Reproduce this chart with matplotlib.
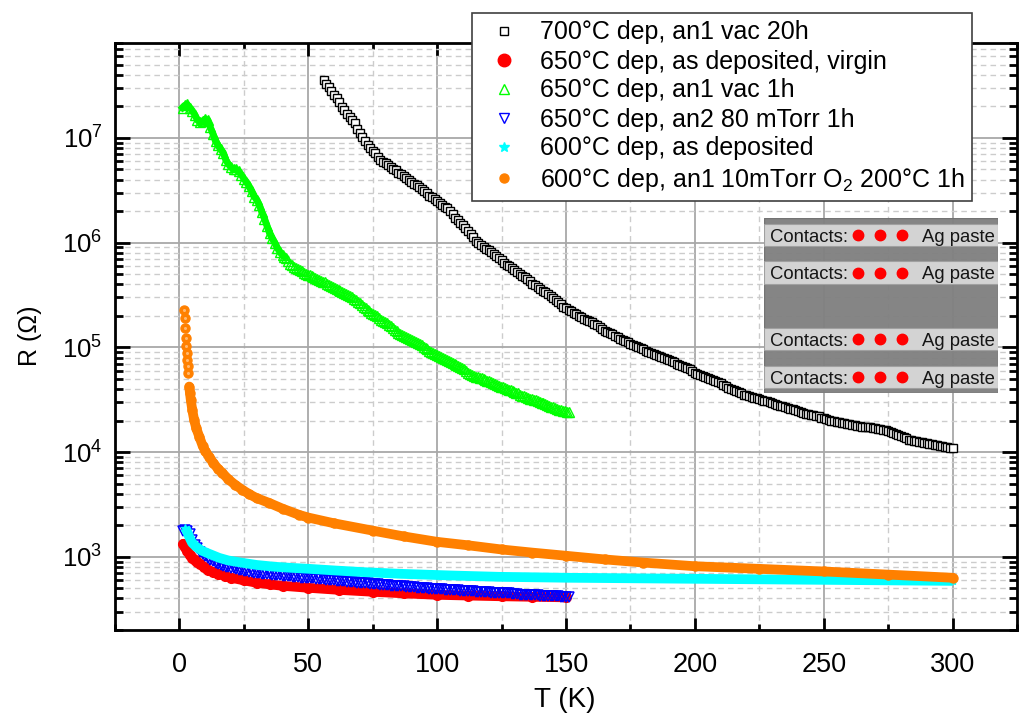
#!/usr/bin/env python3
# -*- coding: utf-8 -*-
import numpy as np
import matplotlib
matplotlib.use('Agg')
import matplotlib.pyplot as plt
from matplotlib.lines import Line2D
from matplotlib.patches import Rectangle
from matplotlib.ticker import LogLocator, MultipleLocator, FixedLocator

plt.rcParams['font.family'] = ['Liberation Sans', 'DejaVu Sans']
plt.rcParams['mathtext.default'] = 'regular'

W, H = 1020, 713

#values, resistance given as log10(R)
black_T = [56, 57, 58, 59, 60, 61, 62, 63, 64, 65, 66, 67, 68, 69, 70, 71, 72, 73, 74, 75, 76, 77, 78, 79,
           80, 81, 82, 83, 84, 85, 86, 87, 88, 89, 90, 91, 92, 93, 94, 95, 96, 97, 98, 99,
           100, 101, 102, 103, 104, 105, 106, 107, 108, 109, 110, 111, 112, 113, 114, 115, 116, 117, 118, 119,
           120, 121, 122, 123, 124, 125, 126, 127, 128, 129, 130, 131, 132, 133, 134, 135, 136, 137, 138, 139,
           140, 141, 142, 143, 144, 145, 146, 147, 148, 149, 150, 151, 152, 153, 154, 155, 156, 157, 158, 159,
           160, 161, 162, 163, 164, 165, 166, 167, 168, 169, 170, 171, 172, 173, 174, 175, 176, 177, 178, 179,
           180, 181, 182, 183, 184, 185, 186, 187, 188, 189, 190, 191, 192, 193, 194, 195, 196, 197, 198, 199,
           200, 201, 202, 203, 204, 205, 206, 207, 208, 209, 210, 211, 212, 213, 214, 215, 216, 217, 218, 219,
           220, 221, 222, 223, 224, 225, 226, 227, 228, 229, 230, 231, 232, 233, 234, 235, 236, 237, 238, 239,
           240, 241, 242, 243, 244, 245, 246, 247, 248, 249, 250, 251, 252, 253, 254, 255, 256, 257, 258, 259,
           260, 261, 262, 263, 264, 265, 266, 267, 268, 269, 270, 271, 272, 273, 274, 275, 276, 277, 278, 279,
           280, 281, 282, 283, 284, 285, 286, 287, 288, 289, 290, 291, 292, 293, 294, 295, 296, 297, 298, 299, 300]
black_logR = [7.55, 7.52, 7.49, 7.45, 7.41, 7.38, 7.34, 7.30, 7.27, 7.23, 7.20, 7.17, 7.14, 7.09, 7.05, 7.01, 6.97,
              6.93, 6.90, 6.88, 6.86, 6.82, 6.79, 6.77,
              6.76, 6.74, 6.72, 6.70, 6.69, 6.67, 6.66, 6.64, 6.62, 6.60, 6.58, 6.56, 6.55, 6.53, 6.51, 6.49, 6.47,
              6.45, 6.44, 6.42,
              6.40, 6.38, 6.36, 6.34, 6.33, 6.30, 6.27, 6.24, 6.22, 6.19, 6.17, 6.14, 6.11, 6.08, 6.05, 6.02, 6.00,
              5.98, 5.96, 5.94,
              5.93, 5.91, 5.89, 5.87, 5.85, 5.83, 5.81, 5.79, 5.78, 5.76, 5.74, 5.72, 5.70, 5.68, 5.67, 5.65, 5.63,
              5.61, 5.60, 5.58,
              5.56, 5.54, 5.53, 5.51, 5.49, 5.47, 5.45, 5.43, 5.41, 5.39, 5.38, 5.36, 5.35, 5.33, 5.32, 5.30, 5.29,
              5.27, 5.26, 5.25,
              5.24, 5.22, 5.21, 5.19, 5.18, 5.16, 5.15, 5.14, 5.13, 5.11, 5.10, 5.08, 5.07, 5.06, 5.05, 5.03, 5.02,
              5.01, 5.00, 4.99,
              4.98, 4.97, 4.96, 4.95, 4.94, 4.93, 4.92, 4.91, 4.90, 4.89, 4.88, 4.87, 4.86, 4.84, 4.83, 4.82, 4.81,
              4.80, 4.79, 4.77,
              4.76, 4.75, 4.74, 4.73, 4.72, 4.71, 4.70, 4.69, 4.68, 4.67, 4.66, 4.64, 4.63, 4.61, 4.60, 4.59, 4.58,
              4.57, 4.56, 4.55,
              4.55, 4.54, 4.53, 4.52, 4.52, 4.51, 4.50, 4.49, 4.49, 4.48, 4.47, 4.46, 4.45, 4.44, 4.44, 4.43, 4.42,
              4.41, 4.41, 4.40,
              4.39, 4.38, 4.37, 4.36, 4.36, 4.35, 4.35, 4.34, 4.34, 4.33, 4.33, 4.32, 4.31, 4.30, 4.30, 4.29, 4.29,
              4.28, 4.28, 4.27,
              4.27, 4.26, 4.26, 4.25, 4.25, 4.24, 4.24, 4.24, 4.24, 4.23, 4.23, 4.22, 4.22, 4.21, 4.21, 4.20, 4.19,
              4.18, 4.17, 4.16,
              4.15, 4.14, 4.13, 4.12, 4.12, 4.11, 4.11, 4.10, 4.10, 4.09, 4.09, 4.08, 4.08, 4.07, 4.07, 4.06, 4.06,
              4.05, 4.05, 4.04, 4.04]

red_T = [1.5, 2, 3, 4, 5, 6, 7, 8, 9.5, 11, 13, 15, 17.5, 20, 25, 30, 35, 40, 50, 62, 75, 87, 100, 112, 125, 137, 150]
red_logR = [3.124, 3.095, 3.057, 3.019, 2.993, 2.971, 2.95, 2.933, 2.903, 2.876, 2.855, 2.838, 2.818, 2.80, 2.775,
            2.752, 2.737, 2.723, 2.704, 2.684, 2.666, 2.651, 2.637, 2.63, 2.623, 2.618, 2.613]

green_T = [1.2, 2, 3, 4, 5, 6, 7, 8, 9, 10, 11, 12, 13, 14, 15, 16, 17, 18, 19, 20, 21, 22, 23, 24, 25, 26, 27, 28,
           29, 30, 31, 32, 33, 34, 35, 36, 37, 38, 39, 40,
           40.75, 41.5, 42.25, 43, 43.75, 44.5, 45.25, 46, 46.75, 47.5, 48.25, 49, 49.75, 50.5, 51.25, 52, 52.75,
           53.5, 54.25, 55, 55.75, 56.5, 57.25, 58, 58.75, 59.5, 60.25, 61, 61.75, 62.5, 63.25, 64, 64.75, 65.5,
           66.25, 67, 67.75, 68.5, 69.25, 70, 70.75, 71.5, 72.25, 73, 73.75, 74.5, 75.25, 76, 76.75, 77.5, 78.25,
           79, 79.75, 80.5, 81.25, 82, 82.75, 83.5, 84.25, 85, 85.75, 86.5, 87.25, 88, 88.75, 89.5, 90.25, 91,
           91.75, 92.5, 93.25, 94, 94.75, 95.5, 96.25, 97, 97.75, 98.5, 99.25, 100, 100.75, 101.5, 102.25, 103,
           103.75, 104.5, 105.25, 106, 106.75, 107.5, 108.25, 109, 109.75, 110.5, 111.25, 112, 112.75, 113.5,
           114.25, 115, 115.75, 116.5, 117.25, 118, 118.75, 119.5, 120.25, 121, 121.75, 122.5, 123.25, 124,
           124.75, 125.5, 126.25, 127, 127.75, 128.5, 129.25, 130, 130.75, 131.5, 132.25, 133, 133.75, 134.5,
           135.25, 136, 136.75, 137.5, 138.25, 139, 139.75, 140.5, 141.25, 142, 142.75, 143.5, 144.25, 145,
           145.75, 146.5, 147.25, 148, 148.75, 149.5, 150.25, 151]
green_logR = [7.29, 7.31, 7.32, 7.29, 7.26, 7.22, 7.17, 7.15, 7.16, 7.18, 7.17, 7.10, 7.04, 6.97, 6.93, 6.89, 6.86,
              6.79, 6.75, 6.72, 6.70, 6.70, 6.68, 6.65, 6.61, 6.58, 6.54, 6.49, 6.44, 6.41, 6.36, 6.29, 6.23, 6.16,
              6.09, 6.04, 6.00, 5.95, 5.91, 5.88,
              5.865, 5.85, 5.825, 5.80, 5.785, 5.77, 5.76, 5.75, 5.74, 5.73, 5.715, 5.70, 5.695, 5.69, 5.68, 5.67,
              5.66, 5.65, 5.64, 5.63, 5.625, 5.62, 5.61, 5.60, 5.59, 5.58, 5.57, 5.56, 5.55, 5.54, 5.53, 5.52, 5.51,
              5.50, 5.49, 5.48, 5.465, 5.45, 5.435, 5.42, 5.405, 5.39, 5.375, 5.36, 5.345, 5.33, 5.32, 5.31, 5.295,
              5.28, 5.265, 5.25, 5.24, 5.23, 5.215, 5.20, 5.185, 5.17, 5.155, 5.14, 5.13, 5.12, 5.11, 5.10, 5.09,
              5.08, 5.07, 5.06, 5.05, 5.04, 5.03, 5.02, 5.005, 4.99, 4.98, 4.97, 4.96, 4.95, 4.94, 4.93, 4.92, 4.91,
              4.90, 4.89, 4.88, 4.87, 4.86, 4.85, 4.84, 4.83, 4.82, 4.81, 4.80, 4.79, 4.775, 4.76, 4.75, 4.74, 4.73,
              4.72, 4.715, 4.71, 4.705, 4.70, 4.69, 4.68, 4.675, 4.67, 4.66, 4.65, 4.64, 4.63, 4.625, 4.62, 4.61,
              4.60, 4.595, 4.59, 4.58, 4.57, 4.565, 4.56, 4.55, 4.54, 4.535, 4.53, 4.52, 4.51, 4.505, 4.50, 4.495,
              4.49, 4.48, 4.47, 4.465, 4.46, 4.45, 4.44, 4.435, 4.43, 4.42, 4.41, 4.405, 4.40, 4.395, 4.39, 4.385,
              4.38]

blue_T = [1.2, 2, 3, 4, 5, 6, 7, 8, 9, 10, 11, 12, 13, 14, 15, 16, 17, 18, 19, 20,
          21, 22, 23, 24, 25, 26, 27, 28, 29, 30, 31, 32, 33, 34, 35, 36, 37, 38, 39, 40,
          41, 42, 43, 44, 45, 46, 47, 48, 49, 50, 51, 52, 53, 54, 55, 56, 57, 58, 59, 60,
          61, 62, 63, 64, 65, 66, 67, 68, 69, 70, 71, 72, 73, 74, 75, 76, 77, 78, 79, 80,
          81, 82, 83, 84, 85, 86, 87, 88, 89, 90, 91, 92, 93, 94, 95, 96, 97, 98, 99, 100,
          101, 102, 103, 104, 105, 106, 107, 108, 109, 110, 111, 112, 113, 114, 115, 116, 117, 118, 119, 120,
          121, 122, 123, 124, 125, 126, 127, 128, 129, 130, 131, 132, 133, 134, 135, 136, 137, 138, 139, 140,
          141, 142, 143, 144, 145, 146, 147, 148, 149, 150, 151]
blue_logR = [3.25, 3.26, 3.25, 3.22, 3.16, 3.115, 3.08, 3.05, 3.03, 3.01, 2.99, 2.97, 2.96, 2.94, 2.93, 2.92, 2.91,
             2.905, 2.90, 2.895,
             2.89, 2.88, 2.875, 2.87, 2.865, 2.86, 2.857, 2.855, 2.85, 2.845, 2.842, 2.84, 2.837, 2.835, 2.832, 2.83,
             2.827, 2.825, 2.822, 2.82,
             2.817, 2.815, 2.812, 2.81, 2.807, 2.805, 2.802, 2.80, 2.80, 2.80, 2.797, 2.795, 2.792, 2.79, 2.787,
             2.785, 2.782, 2.78, 2.777, 2.775,
             2.772, 2.77, 2.767, 2.765, 2.762, 2.76, 2.757, 2.755, 2.752, 2.75, 2.75, 2.75, 2.747, 2.745, 2.742,
             2.74, 2.737, 2.735, 2.732, 2.73,
             2.727, 2.725, 2.722, 2.72, 2.72, 2.72, 2.717, 2.715, 2.712, 2.71, 2.707, 2.705, 2.702, 2.70, 2.70, 2.70,
             2.697, 2.695, 2.692, 2.69,
             2.69, 2.69, 2.687, 2.685, 2.682, 2.68, 2.68, 2.68, 2.677, 2.675, 2.672, 2.67, 2.67, 2.67, 2.667, 2.665,
             2.662, 2.66, 2.66, 2.66,
             2.657, 2.655, 2.655, 2.655, 2.652, 2.65, 2.65, 2.65, 2.647, 2.645, 2.642, 2.64, 2.64, 2.64, 2.637, 2.635,
             2.635, 2.635, 2.632, 2.63,
             2.63, 2.63, 2.627, 2.625, 2.625, 2.625, 2.622, 2.62, 2.62, 2.62, 2.62]

cyan_T = [2.2, 3, 3.8, 4.9, 6.5, 8.8, 11.5, 15.4, 19, 24.4, 30, 37, 43, 50.4, 60, 72, 85.3, 105, 124, 150, 200, 250, 300]
cyan_logR = [3.277, 3.24, 3.19, 3.134, 3.095, 3.057, 3.029, 2.99, 2.965, 2.943, 2.922, 2.905, 2.895, 2.885, 2.87, 2.853,
             2.838, 2.822, 2.809, 2.80, 2.79, 2.78, 2.77]

orange_T = [1.8, 2.1, 2.2, 2.5, 2.7, 2.9, 3.1, 3.3, 3.5, 3.8, 4.1, 4.4, 5, 5.7, 6.5, 7.7, 9, 10, 11.5, 13, 15, 16.6, 19,
            21.5, 24.4, 27, 30, 34.8, 40, 46.5, 50, 60, 75, 87, 100, 112, 125, 137, 150, 165, 180, 200, 225, 250, 275,
            300]
orange_logR = [5.358, 5.284, 5.186, 5.094, 5.017, 4.95, 4.88, 4.826, 4.757, 4.626, 4.56, 4.499, 4.40, 4.308, 4.23, 4.148,
               4.06, 4.01, 3.957, 3.90, 3.84, 3.802, 3.74, 3.69, 3.64, 3.60, 3.56, 3.515, 3.46, 3.40, 3.375, 3.32, 3.25,
               3.195, 3.143, 3.11, 3.07, 3.04, 3.01, 2.975, 2.945, 2.91, 2.885, 2.86, 2.83, 2.80]

legend_labels = ['700°C dep, an1 vac 20h', '650°C dep, as deposited, virgin', '650°C dep, an1 vac 1h',
                 '650°C dep, an2 80 mTorr 1h', '600°C dep, as deposited', '600°C dep, an1 10mTorr O$_2$ 200°C 1h']
inset_bands = [(224, 246), (261, 284), (328, 350), (366, 388)]


def R(values):
    return 10.0 ** np.array(values)


fig = plt.figure(figsize=(W / 100, H / 100), dpi=100)
ax = fig.add_axes([115 / W, 1 - 630 / H, (1017 - 115) / W, (630 - 43) / H])

#data, in the drawing order of the original
ax.plot(black_T, R(black_logR), ls='none', marker='s', ms=5.6, mfc='white', mec='black', mew=1.0, zorder=3)
ax.plot(red_T, R(red_logR), '-', color='#ff0000', lw=7, marker='o', ms=7, solid_capstyle='round', zorder=3)
#the low temperature green points overlap into a solid band
ax.plot(green_T[:41], R(green_logR[:41]), '-', color='#00ff00', lw=5, zorder=3)
ax.plot(green_T, R(green_logR), ls='none', marker='^', ms=6.5, mfc='none', mec='#00ff00', mew=1.0, zorder=3)
ax.plot(blue_T, R(blue_logR), ls='none', marker='v', ms=6.5, mfc='none', mec='#0000ff', mew=1.1, zorder=3)
ax.plot(cyan_T, R(cyan_logR), '-', color='#00ffff', lw=7, marker='*', ms=6, solid_capstyle='butt', zorder=3)
ax.plot(orange_T, R(orange_logR), ls='none', marker='o', ms=6.5, color='#ff8000', zorder=3)
ax.plot(orange_T[9:], R(orange_logR[9:]), '-', color='#ff8000', lw=7, solid_capstyle='round', zorder=3)
#highlight on the separated spheres at the top of the orange curve
ax.plot(orange_T[:9], R(orange_logR[:9]), ls='none', marker='o', ms=2.2, color='#ffb870', mew=0, zorder=4)

ax.set_yscale('log')
ax.set_xlim(-25, 325)
ax.set_ylim(200, 8.07e7)

ax.xaxis.set_major_locator(MultipleLocator(50))
ax.xaxis.set_minor_locator(MultipleLocator(25))
ax.yaxis.set_major_locator(FixedLocator([1e3, 1e4, 1e5, 1e6, 1e7]))
ax.yaxis.set_minor_locator(LogLocator(base=10, subs=range(2, 10), numticks=12))
ax.yaxis.set_minor_formatter(plt.NullFormatter())

ax.tick_params(axis='x', which='major', direction='in', top=True, length=9, width=2, labelsize=19.5, pad=16)
ax.tick_params(axis='x', which='minor', direction='in', top=True, length=4.5, width=2)
ax.tick_params(axis='y', which='major', direction='in', right=True, length=10.5, width=2, labelsize=18.5, pad=9)
ax.tick_params(axis='y', which='minor', direction='in', right=True, length=5.5, width=2)

ax.grid(which='major', color='#a8a8a8', ls='-', lw=1.3, zorder=1)
ax.grid(which='minor', color='#cccccc', ls=(0, (4, 3)), lw=1.0, zorder=1)
ax.set_axisbelow(True)
for s in ax.spines.values():
    s.set_linewidth(2)

fig.text(565 / W, 1 - 700 / H, 'T (K)', fontsize=20, ha='center', va='center')
fig.text(30 / W, 1 - 336 / H, 'R (Ω)', fontsize=18, rotation=90, ha='center', va='center')

#inset with the sample sketch, its axes run in picture pixels
ins = fig.add_axes([764 / W, 1 - 393 / H, 234 / W, 175 / H])
ins.set_xlim(764, 998)
ins.set_ylim(393, 218)
ins.axis('off')
ins.add_patch(Rectangle((764, 218), 234, 175, fc='#808080', ec='#707070', lw=1, alpha=0.96))
for top, bottom in inset_bands:
    mid = (top + bottom) / 2
    ins.add_patch(Rectangle((764, top), 234, bottom - top, fc='#d3d3d3', ec='#a0a0a0', lw=0.8))
    ins.text(770, mid, 'Contacts:', fontsize=13.3, color='#151515', va='center_baseline')
    ins.plot([858, 880, 902], [mid, mid, mid], ls='none', marker='o', ms=7.5, color='#ff0000')
    ins.text(995, mid, 'Ag paste', fontsize=13.3, color='#151515', va='center_baseline', ha='right')

handles = [
    Line2D([], [], ls='none', marker='s', ms=5.6, mfc='white', mec='black', mew=1.0),
    Line2D([], [], ls='none', marker='o', ms=9, color='#ff0000'),
    Line2D([], [], ls='none', marker='^', ms=7.5, mfc='none', mec='#00ff00', mew=1.0),
    Line2D([], [], ls='none', marker='v', ms=7.5, mfc='none', mec='#0000ff', mew=1.0),
    Line2D([], [], ls='none', marker='*', ms=7, color='#00ffff'),
    Line2D([], [], ls='none', marker='o', ms=6.5, color='#ff8000'),
]
leg = fig.legend(handles, legend_labels, loc='upper left', bbox_to_anchor=(472 / W, 1 - 13 / H),
                 bbox_transform=fig.transFigure, fontsize=18, frameon=True, fancybox=False, framealpha=1,
                 edgecolor='#404040', borderaxespad=0, labelspacing=0.2, handletextpad=0.42, handlelength=2.0,
                 borderpad=0.3)
leg.get_frame().set_linewidth(1.2)
leg.set_zorder(10)

fig.savefig('out.png', dpi=100)
